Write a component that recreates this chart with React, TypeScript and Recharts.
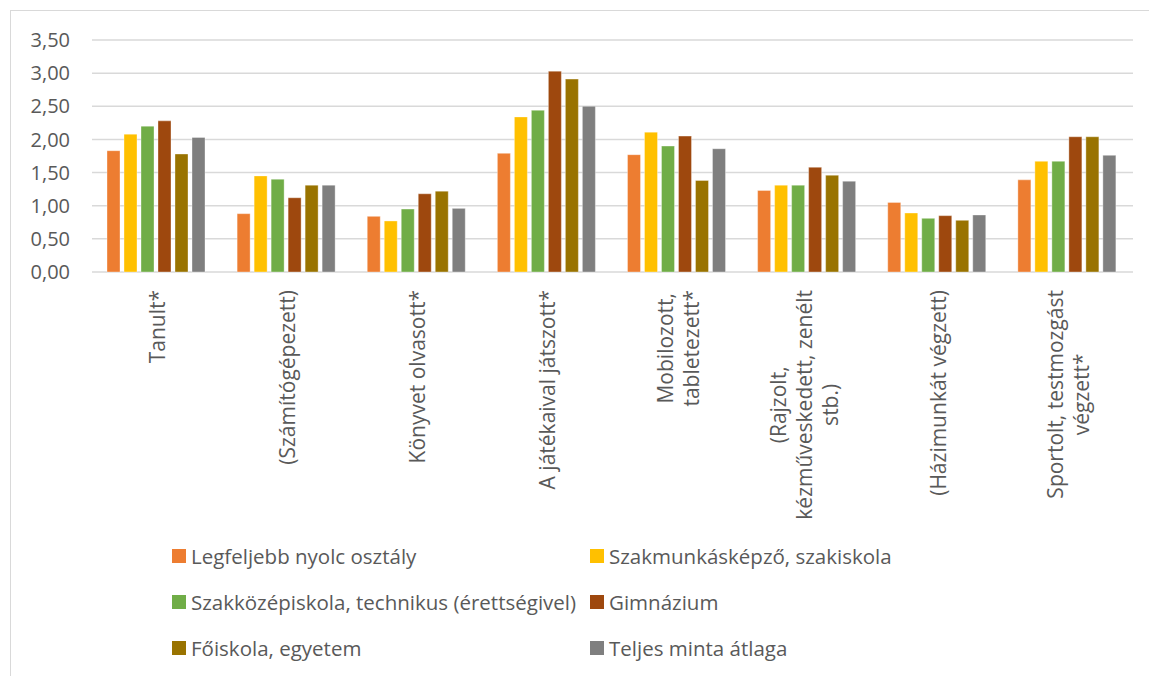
import React from "react";
import {
  BarChart,
  Bar,
  XAxis,
  YAxis,
  CartesianGrid,
  Legend,
} from "recharts";

// activities (line breaks follow the original axis labels)
const categories = [
  "Tanult*",
  "(Számítógépezett)",
  "Könyvet olvasott*",
  "A játékaival játszott*",
  "Mobilozott,\ntabletezett*",
  "(Rajzolt,\nkézműveskedett, zenélt\nstb.)",
  "(Házimunkát végzett)",
  "Sportolt, testmozgást\nvégzett*",
];

const seriesNames = [
  "Legfeljebb nyolc osztály",
  "Szakmunkásképző, szakiskola",
  "Szakközépiskola, technikus (érettségivel)",
  "Gimnázium",
  "Főiskola, egyetem",
  "Teljes minta átlaga",
];

const seriesColors = ["#ED7D31", "#FFC000", "#70AD47", "#9E480E", "#997300", "#7F7F7F"];

const nyolcOsztaly = [1.83, 0.88, 0.84, 1.79, 1.77, 1.23, 1.05, 1.39];
const szakmunkas = [2.08, 1.45, 0.77, 2.34, 2.11, 1.31, 0.89, 1.67];
const szakkozep = [2.2, 1.4, 0.95, 2.44, 1.9, 1.31, 0.81, 1.67];
const gimnazium = [2.28, 1.12, 1.18, 3.03, 2.05, 1.58, 0.85, 2.04];
const foiskola = [1.78, 1.31, 1.22, 2.91, 1.38, 1.46, 0.78, 2.04];
const teljes = [2.03, 1.31, 0.96, 2.5, 1.86, 1.37, 0.86, 1.76];

const yTicks = [0, 0.5, 1, 1.5, 2, 2.5, 3, 3.5];

const seriesValues = [nyolcOsztaly, szakmunkas, szakkozep, gimnazium, foiskola, teljes];

const data = categories.map((c, i) => {
  const row: Record<string, string | number> = { name: c };
  seriesNames.forEach((s, k) => {
    row[s] = seriesValues[k][i];
  });
  return row;
});

const FONT = "'Open Sans', 'DejaVu Sans', sans-serif";
const TEXT = "#595959";
const LABEL_SIZE = 21;

let ctx: CanvasRenderingContext2D | null = null;
function measure(s: string) {
  if (!ctx) ctx = document.createElement("canvas").getContext("2d");
  if (!ctx) return s.length * 10;
  ctx.font = `${LABEL_SIZE}px ${FONT}`;
  return ctx.measureText(s).width;
}

function CategoryTick(props: any) {
  const { x, y, payload } = props;
  const lines: string[] = String(payload.value).split("\n");
  const lh = 26;
  const maxW = Math.max(...lines.map(measure));
  // multi-line labels sit a little left of the group centre in the original
  const shift = lines.length > 2 ? -4 : 0;
  return (
    <g>
      {lines.map((l, i) => {
        const lx = x + shift + (i - (lines.length - 1) / 2) * lh;
        return (
          <text
            key={i}
            transform={`translate(${lx},${y}) rotate(-90)`}
            x={-maxW / 2}
            y={0}
            textAnchor="middle"
            dominantBaseline="central"
            fontSize={LABEL_SIZE}
            fontFamily={FONT}
            fill={TEXT}
          >
            {l}
          </text>
        );
      })}
    </g>
  );
}

function LegendBox() {
  return (
    <div
      style={{
        display: "grid",
        gridTemplateColumns: "418px 420px",
        fontFamily: FONT,
        fontSize: 20.5,
        color: TEXT,
      }}
    >
      {seriesNames.map((s, i) => (
        <div key={s} style={{ display: "flex", alignItems: "center", height: 46 }}>
          <span
            style={{
              display: "inline-block",
              width: 14,
              height: 14,
              background: seriesColors[i],
              marginRight: 5,
            }}
          />
          <span style={{ whiteSpace: "nowrap" }}>{s}</span>
        </div>
      ))}
    </div>
  );
}

export default function App() {
  return (
    <div
      style={{
        position: "absolute",
        left: 0,
        top: 0,
        width: 1149,
        height: 676,
        overflow: "hidden",
        background: "#fff",
      }}
    >
      <div
        style={{
          position: "absolute",
          left: 10,
          top: 10,
          width: 1200,
          height: 700,
          border: "1px solid #d9d9d9",
        }}
      />
      <BarChart
        width={1149}
        height={676}
        data={data}
        margin={{ top: 40, right: 16, left: 0, bottom: 0 }}
        barCategoryGap={15}
        barGap={4}
      >
        <CartesianGrid vertical={false} stroke="#d9d9d9" strokeWidth={1.5} />
        <XAxis
          dataKey="name"
          height={404}
          axisLine={false}
          tickLine={false}
          tickSize={0}
          tickMargin={18}
          interval={0}
          tick={<CategoryTick />}
        />
        <YAxis
          width={92}
          domain={[0, 3.5]}
          ticks={yTicks}
          axisLine={false}
          tickLine={false}
          tickSize={6}
          tickMargin={16}
          tickFormatter={(v: number) => v.toFixed(2).replace(".", ",")}
          tick={{ fontSize: 20, fill: TEXT, fontFamily: FONT }}
        />
        {seriesNames.map((s, i) => (
          <Bar
            key={s}
            dataKey={s}
            fill={seriesColors[i]}
            stroke="#ffffff"
            strokeOpacity={0.35}
            strokeWidth={1}
            isAnimationActive={false}
          />
        ))}
        <Legend
          layout="horizontal"
          verticalAlign="middle"
          align="center"
          wrapperStyle={{ left: 172, top: 533, width: 840 }}
          content={() => <LegendBox />}
        />
      </BarChart>
    </div>
  );
}
